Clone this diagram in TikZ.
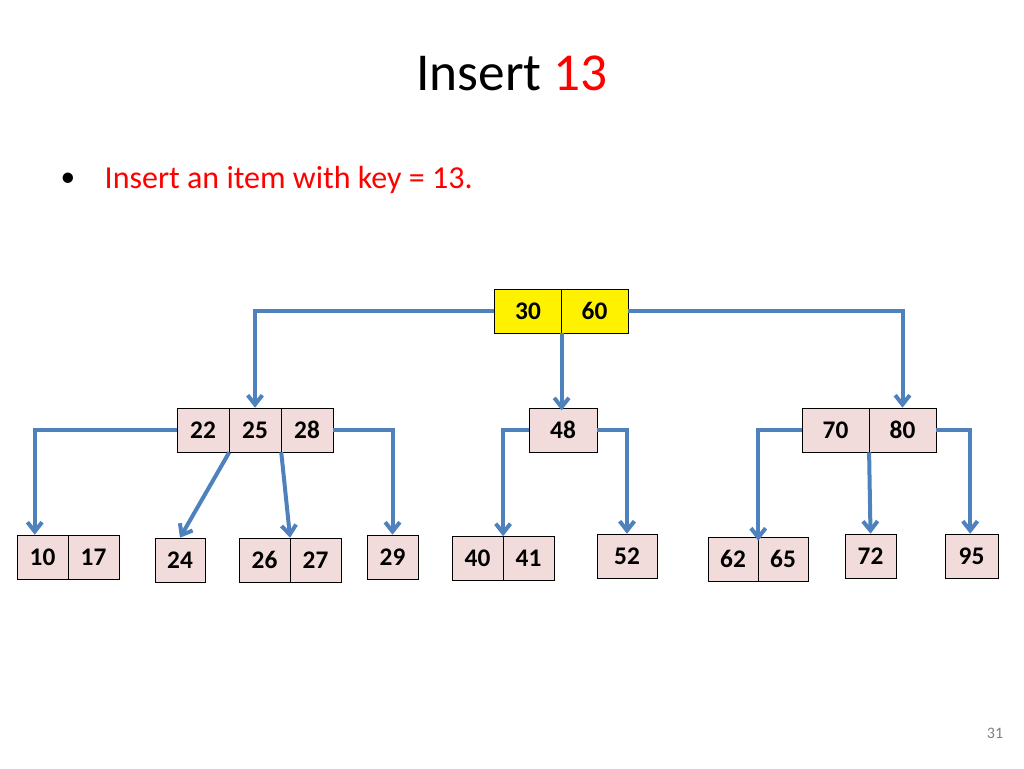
\documentclass[tikz,border=0pt]{standalone}
\usepackage{fontspec}
\setmainfont{Carlito}
\usetikzlibrary{arrows.meta}
\definecolor{edgeblue}{HTML}{4F81BD}
\definecolor{cellpink}{HTML}{F2DCDB}
\tikzset{
  cell/.style={draw,fill=cellpink,minimum height=33pt,inner sep=0pt,font=\fontsize{19}{19}\selectfont\bfseries},
  link/.style={draw=edgeblue,line width=3pt,-{Straight Barb[length=7pt,width=11pt]}},
}
\begin{document}
\begin{tikzpicture}[x=0.75pt,y=-0.75pt]
    \useasboundingbox (0,0) rectangle (1024,768);
    \path (512,73) node (title) {\fontsize{40}{40}\selectfont Insert \textcolor{red}{13}};
    \path (68,180) node (dot) {\fontsize{22}{22}\selectfont\textbullet};
    \path (100,180) node [anchor=west,text=red] (bullet) {\fontsize{24}{24}\selectfont Insert an item with key = 13.};
    \path (995,733) node [text=gray] (page) {\fontsize{12}{12}\selectfont 31};
    % root
    \path (528,311) node [cell,fill=yellow,minimum width=50pt] (r1) {30};
    \path (594.5,311) node [cell,fill=yellow,minimum width=50pt] (r2) {60};
    % second level
    \path (203,430) node [cell,minimum width=39pt] (a1) {22};
    \path (255,430) node [cell,minimum width=39pt] (a2) {25};
    \path (307,430) node [cell,minimum width=39pt] (a3) {28};
    \path (563,430) node [cell,minimum width=51pt] (b1) {48};
    \path (835.5,430) node [cell,minimum width=50pt] (c1) {70};
    \path (902.5,430) node [cell,minimum width=50pt] (c2) {80};
    % leaves
    \path (42.5,557) node [cell,minimum width=38pt] (l1) {10};
    \path (93.5,557) node [cell,minimum width=38pt] (l2) {17};
    \path (180,560) node [cell,minimum width=37.5pt] (l3) {24};
    \path (264.5,560) node [cell,minimum width=38pt] (l4) {26};
    \path (315.5,560) node [cell,minimum width=38pt] (l5) {27};
    \path (392.5,557) node [cell,minimum width=38pt] (l6) {29};
    \path (477.5,558.5) node [cell,minimum width=38pt] (l7) {40};
    \path (528.5,558.5) node [cell,minimum width=38pt] (l8) {41};
    \path (627,556) node [cell,minimum width=45pt] (l9) {52};
    \path (733,559) node [cell,minimum width=37.5pt] (l10) {62};
    \path (783,559) node [cell,minimum width=37.5pt] (l11) {65};
    \path (870.5,556) node [cell,minimum width=38pt] (l12) {72};
    \path (971.5,556) node [cell,minimum width=40pt] (l13) {95};
    % links
    \draw [link] (r1.west) -| (a2.north);
    \draw [link] (r1.south east) -- ([yshift=-2pt]b1.north -| r1.south east);
    \draw [link] (r2.east) -| (c2.north);
    \draw [link] (a1.west) -| ([xshift=-25pt]l1.north east);
    \draw [link] (a1.south east) -- (l3.north);
    \draw [link] (a2.south east) -- (l4.north east);
    \draw [link] (a3.east) -| (l6.north);
    \draw [link] (b1.west) -| (l7.north east);
    \draw [link] (b1.east) -| (l9.north);
    \draw [link] (c1.west) -| ([yshift=-3pt]l10.north east);
    \draw [link] (c1.south east) -- (l12.north);
    \draw [link] (c2.east) -| ([xshift=-1pt]l13.north);
\end{tikzpicture}
\end{document}
